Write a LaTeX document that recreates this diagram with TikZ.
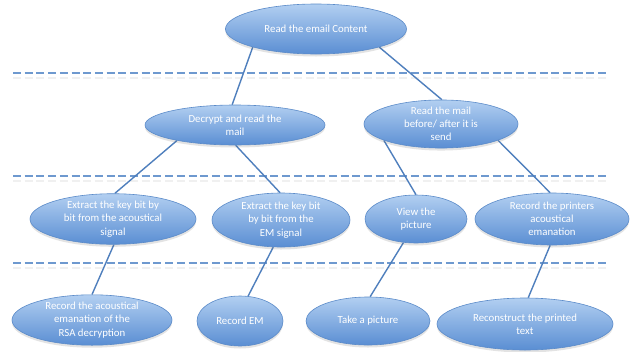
\documentclass[tikz,border=0pt]{standalone}
\usepackage{fontspec}
\setmainfont{Carlito}
\usetikzlibrary{shapes.geometric,shadows}
\pgfdeclarelayer{rules}
\pgfdeclarelayer{links}
\pgfsetlayers{rules,links,main}
\definecolor{ovalTop}{HTML}{B2CFF1}
\definecolor{ovalBot}{HTML}{5A8ED3}
\definecolor{ovalRim}{HTML}{5B8BC9}
\definecolor{linkBlue}{HTML}{4F7FBD}
\definecolor{ruleBlue}{HTML}{6E99CF}
\tikzset{
  oval/.style={ellipse, inner sep=0pt, draw=ovalRim, line width=0.6pt,
    top color=ovalTop, bottom color=ovalBot, text=white, align=center,
    font=\fontsize{10.8}{13.2}\selectfont,
    drop shadow={shadow xshift=0pt, shadow yshift=-2.5pt, opacity=0.18, fill=black!60}},
  link/.style={draw=linkBlue, line width=1.4pt},
  levelrule/.style={draw=ruleBlue, line width=2.6pt, dash pattern=on 8pt off 3.7pt},
  ruleshade/.style={draw=black!6, line width=2pt, dash pattern=on 8pt off 3.7pt}
}
\newcommand{\goalnode}[5]{\node[oval, minimum width=#3pt, minimum height=#4pt] (#1) at #2 {#5};}
\begin{document}
\begin{tikzpicture}[x=1pt, y=-1pt]
\useasboundingbox (0,0) rectangle (631,351);

% white page and level separators, beneath everything else
\begin{pgfonlayer}{rules}
\fill[white] (0,0) rectangle (631,351);
\foreach \yy in {73,176,263}{
  \draw[ruleshade] (13,\yy+5) -- (609,\yy+5);
  \draw[levelrule] (13,\yy) -- (609,\yy);
}
\end{pgfonlayer}

% goal tree
\goalnode{root}{(316,29)}{181}{50}{Read the email Content}
\goalnode{dec}{(235,125)}{180}{40}{Decrypt and read the\\mail}
\goalnode{rmail}{(441,124)}{154}{43}{Read the mail\\before/ after it is\\send}
\goalnode{xa}{(113,219)}{166}{48}{Extract the key bit by\\bit from the acoustical\\signal}
\goalnode{xe}{(281,220)}{138}{54}{Extract the key bit\\by bit from the\\EM signal}
\goalnode{vp}{(416,219)}{102}{48}{View the\\picture}
\goalnode{rp}{(552,219)}{154}{52}{Record the printers\\acoustical\\emanation}
\goalnode{ra}{(92,320)}{160}{50}{Record the acoustical\\emanation of the\\RSA decryption}
\goalnode{rem}{(240,321)}{86}{50}{Record EM}
\goalnode{tp}{(368,321)}{124}{48}{Take a picture}
\goalnode{rc}{(525,324)}{176}{52}{Reconstruct the printed\\text}

\begin{pgfonlayer}{links}
\draw[link] (root.196) -- (dec.98);
\draw[link] (root.344) -- (rmail.88);
\draw[link] (dec.195) -- (xa.86);
\draw[link] (dec.272) -- (xe.92);
\draw[link] (rmail.196) -- (vp.90);
\draw[link] (rmail.344) -- (rp.94);
\draw[link] (xa.272) -- (ra.90);
\draw[link] (xe.254) -- (rem.72);
\draw[link] (vp.242) -- (tp.85);
\draw[link] (rp.266) -- (rc.83);
\end{pgfonlayer}
\end{tikzpicture}
\end{document}
